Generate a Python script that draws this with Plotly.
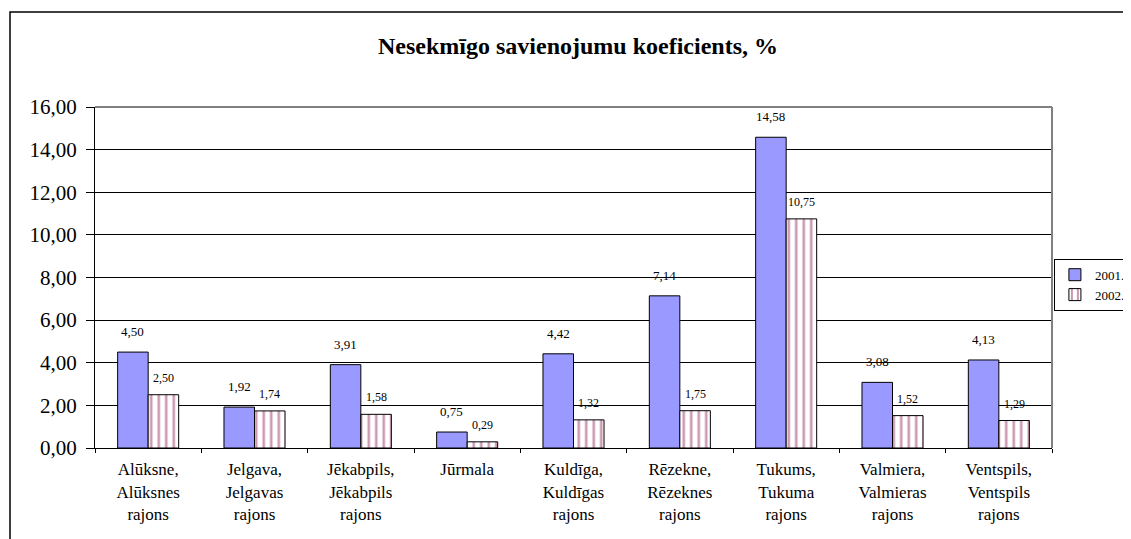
import plotly.graph_objects as go

FONT = "Times New Roman, Liberation Serif, serif"

categories = [
    "Alūksne,<br>Alūksnes<br>rajons",
    "Jelgava,<br>Jelgavas<br>rajons",
    "Jēkabpils,<br>Jēkabpils<br>rajons",
    "Jūrmala",
    "Kuldīga,<br>Kuldīgas<br>rajons",
    "Rēzekne,<br>Rēzeknes<br>rajons",
    "Tukums,<br>Tukuma<br>rajons",
    "Valmiera,<br>Valmieras<br>rajons",
    "Ventspils,<br>Ventspils<br>rajons",
]
values_2001 = [4.50, 1.92, 3.91, 0.75, 4.42, 7.14, 14.58, 3.08, 4.13]
values_2002 = [2.50, 1.74, 1.58, 0.29, 1.32, 1.75, 10.75, 1.52, 1.29]

# page is rendered with an 8px body margin, so the figure is 8px smaller
W, H = 1123, 531
L, R, T, B = 87, 79, 99, 91
BAR_HALF = (W - L - R) / len(categories) * (1 - 0.426) / 4

fig = go.Figure()

fig.add_trace(go.Bar(
    x=categories,
    y=values_2001,
    name="2001.",
    marker=dict(color="#9999FF", line=dict(color="black", width=1)),
))

fig.add_trace(go.Bar(
    x=categories,
    y=values_2002,
    name="2002.",
    marker=dict(
        color="white",
        line=dict(color="black", width=1),
        pattern=dict(shape="|", fgcolor="#993366", bgcolor="white",
                     size=7.5, solidity=0.35),
    ),
))

# value labels above the bars
for cat, v in zip(categories, values_2001):
    fig.add_annotation(x=cat, y=v, text=f"{v:.2f}".replace(".", ","),
                       showarrow=False, yanchor="bottom", yshift=11,
                       xshift=-BAR_HALF,
                       font=dict(family=FONT, size=13, color="black"))
for cat, v in zip(categories, values_2002):
    fig.add_annotation(x=cat, y=v, text=f"{v:.2f}".replace(".", ","),
                       showarrow=False, yanchor="bottom", yshift=8,
                       xshift=BAR_HALF,
                       font=dict(family=FONT, size=12, color="black"))

fig.update_layout(
    width=W,
    height=H,
    margin=dict(l=L, r=R, t=T, b=B, autoexpand=False),
    paper_bgcolor="white",
    plot_bgcolor="white",
    separators=", ",
    barmode="group",
    bargap=0.426,
    bargroupgap=0,
    font=dict(family=FONT, size=16, color="black"),
    title=dict(
        text="<b>Nesekmīgo savienojumu koeficients, %</b>",
        x=0.5 + 4.5 / (W - L - R), xanchor="center", xref="paper",
        y=1 - 38 / H, yanchor="middle", yref="container",
        font=dict(family=FONT, size=24, color="black"),
    ),
    legend=dict(
        x=1.002, y=0.555, xanchor="left", yanchor="top",
        bordercolor="black", borderwidth=1,
        font=dict(family=FONT, size=13, color="black"),
        bgcolor="white",
        itemwidth=30,
    ),
    showlegend=True,
)

fig.update_yaxes(
    range=[0, 16],
    dtick=2,
    tickformat=".2f",
    showgrid=True,
    gridcolor="black",
    gridwidth=1,
    zeroline=False,
    showline=True,
    linecolor="black",
    linewidth=1,
    ticks="outside",
    ticklen=8,
    tickcolor="black",
    ticklabelstandoff=5,
    tickfont=dict(family=FONT, size=21, color="black"),
)

fig.update_xaxes(
    showline=True,
    linecolor="black",
    linewidth=1,
    ticks="outside",
    tickson="boundaries",
    ticklen=4,
    tickcolor="black",
    ticklabelstandoff=6,
    tickfont=dict(family=FONT, size=17, color="black"),
)

# plot area border (grey) on top and right, and outer chart frame
fig.add_shape(type="line", xref="paper", yref="paper", x0=0, x1=1, y0=1, y1=1,
              line=dict(color="#808080", width=2), layer="above")
fig.add_shape(type="line", xref="paper", yref="paper", x0=1, x1=1, y0=0, y1=1,
              line=dict(color="#808080", width=2), layer="above")
fig.add_shape(type="rect", xref="paper", yref="paper",
              x0=-0.0888, x1=1.2, y0=-0.4, y1=1.2786,
              line=dict(color="black", width=1.5), layer="below")

fig.write_html("out.html")
